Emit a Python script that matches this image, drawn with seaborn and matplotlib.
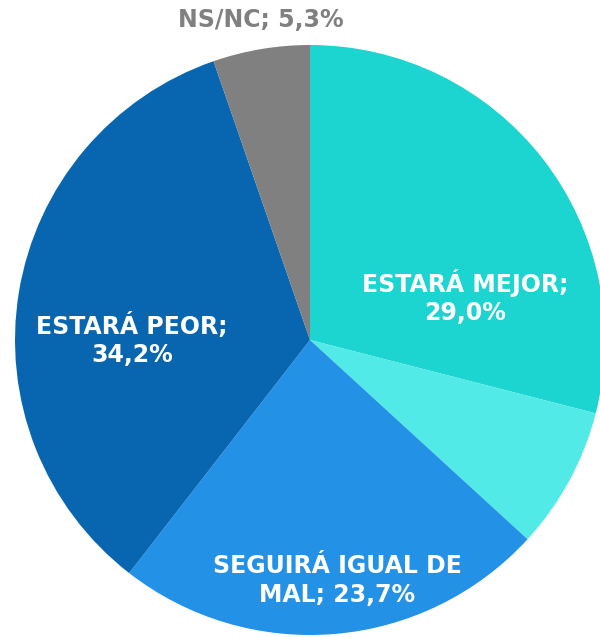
import matplotlib
matplotlib.use('Agg')
import matplotlib.pyplot as plt
import seaborn as sns

# Datos
categorias = ['ESTARÁ MEJOR', 'SEGUIRÁ IGUAL DE BIEN', 'SEGUIRÁ IGUAL DE MAL', 'ESTARÁ PEOR', 'NS/NC']
valores = [29.0, 7.8, 23.7, 34.2, 5.3]
etiquetas = ['ESTARÁ MEJOR;\n29,0%', '', 'SEGUIRÁ IGUAL DE\nMAL; 23,7%', 'ESTARÁ PEOR;\n34,2%', 'NS/NC; 5,3%']

sns.set_theme(style='white')
plt.rcParams['font.family'] = ['DejaVu Sans']

colores = ['#1DD5D0', '#52EAE6', '#2391E6', '#0866B0', '#808080']

fig = plt.figure(figsize=(6, 6.37), dpi=100)
ax = fig.add_axes([0, 0, 1, 1])
wedges, _ = ax.pie(valores, colors=colores, startangle=90, counterclock=False,
                   radius=1, wedgeprops={'linewidth': 0})

# posiciones de etiquetas (en unidades del radio)
pos = [(0.525, 0.146), None, (0.092, -0.814), (-0.603, 0.0), (-0.166, 1.085)]
col_txt = ['white', 'white', 'white', 'white', '#808080']
for lab, p, c in zip(etiquetas, pos, col_txt):
    if p is None or not lab:
        continue
    ax.text(p[0], p[1], lab, ha='center', va='center', color=c, fontsize=17,
            fontweight='bold', linespacing=1.25)

ax.set_xlim(-310 / 295, 290 / 295)
ax.set_ylim(-297 / 295, 340 / 295)
ax.set_aspect('auto')
ax.axis('off')

plt.savefig('out.png', dpi=100)
